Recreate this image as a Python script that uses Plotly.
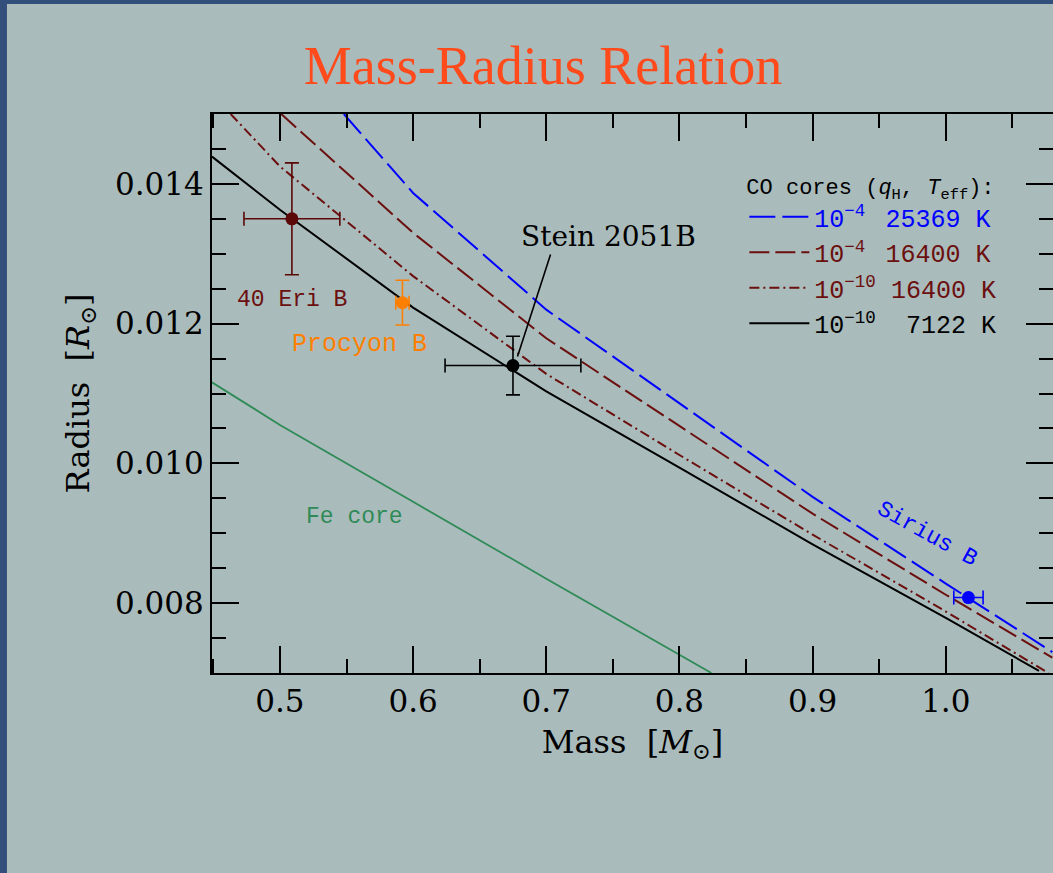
import plotly.graph_objects as go

# ---------------- data ----------------
# CO-core models
m_25369_q4 = [0.548, 0.6, 0.7, 0.8, 0.9, 1.0, 1.08]
r_25369_q4 = [0.0150, 0.01387, 0.0122, 0.01086, 0.00952, 0.00828, 0.00730]

m_16400_q4 = [0.501, 0.6, 0.7, 0.8, 0.9, 1.0, 1.08]
r_16400_q4 = [0.0150, 0.0133, 0.01179, 0.01053, 0.00928, 0.00812, 0.00722]

m_16400_q10 = [0.463, 0.5, 0.6, 0.7, 0.8, 0.9, 1.0, 1.077]
r_16400_q10 = [0.0150, 0.01425, 0.01268, 0.01128, 0.01012, 0.00898, 0.00788, 0.00700]

m_7122_q10 = [0.449, 0.5, 0.6, 0.7, 0.8, 0.9, 1.0, 1.07]
r_7122_q10 = [0.01439, 0.01363, 0.01223, 0.01103, 0.00994, 0.00884, 0.00779, 0.00703]

# Fe core model
m_fe = [0.449, 0.5, 0.6, 0.7, 0.824]
r_fe = [0.01116, 0.01055, 0.00945, 0.00835, 0.0070]

# observed white dwarfs
star_names = ["40 Eri B", "Procyon B", "Stein 2051B", "Sirius B"]
star_mass = [0.509, 0.592, 0.675, 1.017]
star_mass_err = [0.036, 0.005, 0.051, 0.011]
star_radius = [0.0135, 0.0123, 0.0114, 0.00808]
star_radius_err = [0.0008, 0.00032, 0.00042, 0.0]
star_colors = ["#5a0808", "#ff7f00", "#000000", "#0000ff"]

# label positions (data coords)
label_mass = [0.509, 0.560, 0.7466, 0.9858]
label_radius = [0.01234, 0.01170, 0.01324, 0.00899]
fe_label = ("Fe core", 0.556, 0.00923)
stein_pointer = [(0.7032, 0.01299), (0.6784, 0.01153)]

x_ticks = [0.5, 0.6, 0.7, 0.8, 0.9, 1.0]
y_ticks = [0.008, 0.010, 0.012, 0.014]

# ---------------- styling ----------------
BG = "rgb(170,187,187)"
BROWN = "#6b0f0f"
MONO = "Liberation Mono, DejaVu Sans Mono, monospace"
SERIF = "DejaVu Serif, serif"
NB = "\u00a0"
TH = "\u2009"

fig = go.Figure()

fig.add_trace(go.Scatter(x=m_fe, y=r_fe, mode="lines",
                         line=dict(color="#2e8b57", width=1.8),
                         showlegend=False, hoverinfo="skip"))

curves = [
    (m_25369_q4, r_25369_q4, "#0000ff", "26px,7px",
     f"<span style='color:#0000ff'>10<sup>−4</sup>{NB}{TH}25369{NB}K</span>"),
    (m_16400_q4, r_16400_q4, BROWN, "20px,6px",
     f"<span style='color:{BROWN}'>10<sup>−4</sup>{NB}{TH}16400{NB}K</span>"),
    (m_16400_q10, r_16400_q10, BROWN, "10px,4px,2px,4px",
     f"<span style='color:{BROWN}'>10<sup>−10</sup>{NB}16400{NB}K</span>"),
    (m_7122_q10, r_7122_q10, "#000000", "solid",
     f"10<sup>−10</sup>{NB}{NB}7122{NB}K"),
]
for mx, ry, col, dash, name in curves:
    fig.add_trace(go.Scatter(x=mx, y=ry, mode="lines", name=name,
                             line=dict(color=col, width=2, dash=dash),
                             hoverinfo="skip"))

for i in range(len(star_names)):
    col = star_colors[i]
    fig.add_trace(go.Scatter(
        x=[star_mass[i]], y=[star_radius[i]], mode="markers",
        marker=dict(color=col, size=13),
        error_x=dict(type="data", array=[star_mass_err[i]], color=col,
                     thickness=1.6, width=7),
        error_y=dict(type="data", array=[star_radius_err[i]], color=col,
                     thickness=1.6, width=7, visible=star_radius_err[i] > 0),
        showlegend=False, hoverinfo="skip"))

# star labels
label_fonts = [
    dict(family=MONO, size=23, color=BROWN),
    dict(family=MONO, size=25, color="#ff7f00"),
    dict(family=SERIF, size=28, color="#000000"),
    dict(family=MONO, size=23, color="#0000ff"),
]
angles = [0, 0, 0, 29]
for i in range(len(star_names)):
    fig.add_annotation(x=label_mass[i], y=label_radius[i], text=star_names[i],
                       showarrow=False, font=label_fonts[i], textangle=angles[i],
                       xanchor="center", yanchor="middle")
fig.add_annotation(x=fe_label[1], y=fe_label[2], text=fe_label[0], showarrow=False,
                   font=dict(family=MONO, size=23, color="#2e8b57"))

# pointer line for Stein 2051B
fig.add_shape(type="line", xref="x", yref="y",
              x0=stein_pointer[0][0], y0=stein_pointer[0][1],
              x1=stein_pointer[1][0], y1=stein_pointer[1][1],
              line=dict(color="black", width=1.6))

# slide border (left & top)
fig.add_shape(type="rect", xref="paper", yref="paper", x0=-0.26, x1=-0.2438,
              y0=-0.4, y1=1.25, fillcolor="rgb(50,78,122)", line_width=0, layer="below")
fig.add_shape(type="rect", xref="paper", yref="paper", x0=-0.26, x1=1.05,
              y0=1.1968, y1=1.25, fillcolor="rgb(50,78,122)", line_width=0, layer="below")

axis_common = dict(
    showline=True, linecolor="black", linewidth=2, mirror="ticks",
    ticks="inside", ticklen=27, tickwidth=2, tickcolor="black",
    showgrid=False, zeroline=False,
    tickfont=dict(family=SERIF, size=31, color="black"),
)

fig.update_xaxes(**axis_common, range=[0.449, 1.0805], tickvals=x_ticks,
                 ticktext=[f"{v:.1f}" for v in x_ticks],
                 minor=dict(dtick=0.05, tick0=0.5, ticks="inside", ticklen=14,
                            tickwidth=2, tickcolor="black", showgrid=False),
                 title=dict(text=f"Mass{NB}{NB}[<i>M</i><sub>⊙</sub>]",
                            font=dict(family=SERIF, size=32, color="black"),
                            standoff=12))
fig.update_yaxes(**axis_common, range=[0.007, 0.015], tickvals=y_ticks,
                 ticktext=[f"{v:.3f}" for v in y_ticks],
                 minor=dict(dtick=0.0005, tick0=0.007, ticks="inside", ticklen=14,
                            tickwidth=2, tickcolor="black", showgrid=False),
                 title=dict(text=f"Radius{NB}{NB}[<i>R</i><sub>⊙</sub>]",
                            font=dict(family=SERIF, size=32, color="black"),
                            standoff=16))

fig.update_layout(
    width=1053, height=873,
    margin=dict(l=212, r=0, t=114, b=200, autoexpand=False),
    paper_bgcolor=BG, plot_bgcolor=BG,
    title=dict(text="Mass-Radius Relation", x=543 / 1053, xanchor="center",
               y=1 - 65 / 873, yanchor="middle", yref="container",
               font=dict(family="Liberation Serif, serif", size=54, color="#ff4a1c")),
    legend=dict(x=0.633, y=0.908, xanchor="left", yanchor="top",
                bgcolor="rgba(0,0,0,0)", borderwidth=0, itemwidth=60,
                font=dict(family=MONO, size=25, color="black"),
                title=dict(text="CO cores (<i>q</i><sub>H</sub>, <i>T</i><sub>eff</sub>):",
                           font=dict(family=MONO, size=22, color="black")),
                tracegroupgap=0),
    showlegend=True,
)

fig.write_html("out.html",
               config={"displayModeBar": False},
               post_script="document.body.style.margin='0';"
                           "document.body.style.overflow='hidden';")
